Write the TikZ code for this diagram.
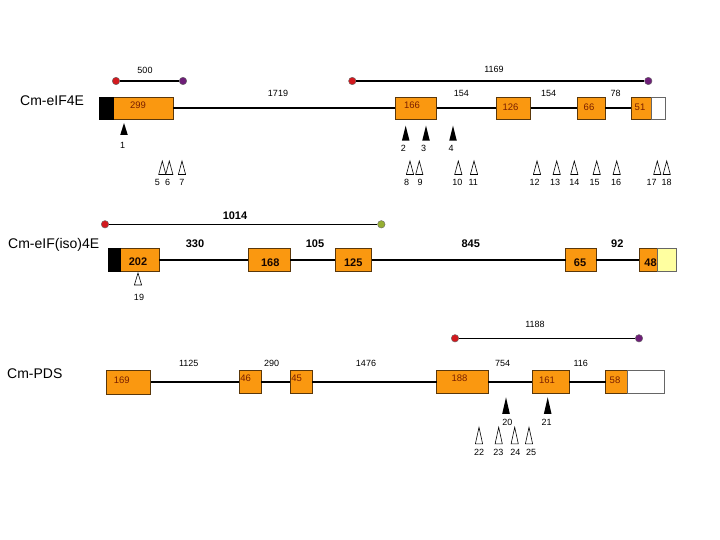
\documentclass[tikz,border=0pt]{standalone}
\usepackage{fontspec}
\setmainfont{Liberation Sans}
\definecolor{exonfill}{RGB}{250,152,16}
\definecolor{exonline}{RGB}{90,55,10}
\definecolor{boxtext}{RGB}{120,30,0}
\definecolor{paleyellow}{RGB}{255,255,160}
\definecolor{dotred}{RGB}{210,25,30}
\definecolor{dotpurple}{RGB}{110,30,120}
\definecolor{dotgreen}{RGB}{150,175,50}
\begin{document}
\begin{tikzpicture}[x=1pt,y=-1pt,
  exon/.style={draw=exonline, fill=exonfill, line width=0.7pt, inner sep=0pt, outer sep=0pt, anchor=center},
  blackbox/.style={exon, fill=black, draw=black},
  utr/.style={exon, fill=white, draw=black!60},
  intron/.style={line width=2.1pt, black},
  spanline/.style={line width=1.3pt, black},
  dotnode/.style={circle, draw=black!60, line width=0.4pt, minimum size=7.5pt, inner sep=0pt},
  num/.style={font=\fontsize{9}{9}\selectfont, anchor=base, inner sep=0pt},
  bnum/.style={font=\fontsize{11}{11}\selectfont\bfseries, anchor=base, inner sep=0pt},
  boxnum/.style={font=\fontsize{9.5}{9.5}\selectfont, anchor=base, inner sep=0pt, text=boxtext},
  bboxnum/.style={font=\fontsize{11}{11}\selectfont\bfseries, anchor=base, inner sep=0pt, text=black!80!boxtext},
  gene/.style={font=\fontsize{14}{14}\selectfont, anchor=base west, inner sep=0pt},
  ftri/.pic={\fill[black] (0,0) -- (3.8,#1) -- (-3.8,#1) -- cycle;},
  otri/.pic={\draw[fill=white, line width=0.6pt, line join=miter] (0,0) -- (3.6,#1) -- (-3.6,#1) -- cycle;}
]
\useasboundingbox (0,0) rectangle (720,540);

% ---------------- Row 1: Cm-eIF4E ----------------
\node[gene] (g1) at (20,106) {Cm-eIF4E};

\node[dotnode, fill=dotred] (s1a) at (116,81) {};
\node[dotnode, fill=dotpurple] (s1b) at (183,81) {};
\draw[spanline] (s1a) -- (s1b);
\node[num] (t500) at (145,73.3) {500};
\node[dotnode, fill=dotred] (s2a) at (352.3,81) {};
\node[dotnode, fill=dotpurple] (s2b) at (648.3,81) {};
\draw[spanline] (s2a) -- (s2b);
\node[num] (t1169) at (494,72.7) {1169};

\node[exon, minimum width=60.3pt, minimum height=21.5pt] (e11) at (143.15,108.3) {};
\node[blackbox, minimum width=14pt, minimum height=21.5pt] (k1) at (106,108.3) {};
\node[exon, minimum width=41.4pt, minimum height=21.5pt] (e12) at (416,108.3) {};
\node[exon, minimum width=34.7pt, minimum height=21.5pt] (e13) at (513.35,108.3) {};
\node[exon, minimum width=27.7pt, minimum height=21.5pt] (e14) at (591.15,108.3) {};
\node[exon, minimum width=20.4pt, minimum height=21.5pt] (e15) at (641.5,108.3) {};
\node[utr, minimum width=14pt, minimum height=21.5pt] (u1) at (658.7,108.3) {};
\draw[intron] (e11.east) -- (e12.west);
\draw[intron] (e12.east) -- (e13.west);
\draw[intron] (e13.east) -- (e14.west);
\draw[intron] (e14.east) -- (e15.west);

\node[boxnum] (x299) at (138,109) {299};
\node[boxnum] (x166) at (412,109) {166};
\node[boxnum] (x126) at (510.5,110.3) {126};
\node[boxnum] (x66) at (589,110.3) {66};
\node[boxnum] (x51) at (640,110.3) {51};

\node[num] (i1719) at (278,96.7) {1719};
\node[num] (i154a) at (461.3,96.7) {154};
\node[num] (i154b) at (548.7,96.7) {154};
\node[num] (i78) at (615.7,96.7) {78};

\pic at (124,123) {ftri=12};
\pic at (405.7,125.7) {ftri=15};
\pic at (426,125.7) {ftri=15};
\pic at (453,125.7) {ftri=15};
\node[num] (m1) at (122.7,149) {1};
\node[num] (m2) at (403.3,151.5) {2};
\node[num] (m3) at (423.7,151.5) {3};
\node[num] (m4) at (451,151.5) {4};

\foreach \xx in {162.3,169.3,182,410,419.3,458.3,474,537,556.7,574.3,596.7,616.7,657.3,666.7}
  \pic at (\xx,161) {otri=13.5};
\node[num] (m5) at (157.3,185.7) {5};
\node[num] (m6) at (167.7,185.7) {6};
\node[num] (m7) at (182,185.7) {7};
\node[num] (m8) at (406.7,185.7) {8};
\node[num] (m9) at (420,185.7) {9};
\node[num] (m10) at (457.3,185.7) {10};
\node[num] (m11) at (473.3,185.7) {11};
\node[num] (m12) at (534.7,185.7) {12};
\node[num] (m13) at (555,185.7) {13};
\node[num] (m14) at (574.3,185.7) {14};
\node[num] (m15) at (594.7,185.7) {15};
\node[num] (m16) at (616,185.7) {16};
\node[num] (m17) at (651.7,185.7) {17};
\node[num] (m18) at (666.7,185.7) {18};

% ---------------- Row 2: Cm-eIF(iso)4E ----------------
\node[gene] (g2) at (8,248) {Cm-eIF(iso)4E};

\node[dotnode, fill=dotred] (s3a) at (105,224.3) {};
\node[dotnode, fill=dotgreen] (s3b) at (381.3,224.3) {};
\draw[spanline] (s3a) -- (s3b);
\node[bnum] (t1014) at (235,219) {1014};

\node[exon, minimum width=39pt, minimum height=23pt] (e21) at (139.5,260) {};
\node[blackbox, minimum width=12pt, minimum height=23pt] (k2) at (114,260) {};
\node[exon, minimum width=42pt, minimum height=23pt] (e22) at (269,260) {};
\node[exon, minimum width=36.7pt, minimum height=23pt] (e23) at (353.35,260) {};
\node[exon, minimum width=30.6pt, minimum height=23pt] (e24) at (581,260) {};
\node[exon, minimum width=18.4pt, minimum height=23pt] (e25) at (648.5,260) {};
\node[utr, fill=paleyellow, draw=black!60, minimum width=19pt, minimum height=23pt] (u2) at (667.2,260) {};
\draw[intron] (e21.east) -- (e22.west);
\draw[intron] (e22.east) -- (e23.west);
\draw[intron] (e23.east) -- (e24.west);
\draw[intron] (e24.east) -- (e25.west);

\node[bboxnum] (x202) at (138,265.5) {202};
\node[bboxnum] (x168) at (270.3,266) {168};
\node[bboxnum] (x125) at (353.3,266) {125};
\node[bboxnum] (x65) at (580,266) {65};
\node[bboxnum] (x48) at (650.5,266) {48};

\node[bnum] (i330) at (195,247.3) {330};
\node[bnum] (i105) at (315,247.3) {105};
\node[bnum] (i845) at (470.7,247.3) {845};
\node[bnum] (i92) at (617.3,247.3) {92};

\pic at (138,273) {otri=12};
\node[num] (m19) at (139,300) {19};

% ---------------- Row 3: Cm-PDS ----------------
\node[gene] (g3) at (7,378.3) {Cm-PDS};

\node[dotnode, fill=dotred] (s4a) at (455,338.3) {};
\node[dotnode, fill=dotpurple] (s4b) at (639,338.3) {};
\draw[spanline] (s4a) -- (s4b);
\node[num] (t1188) at (535,327.7) {1188};

\node[exon, minimum width=44pt, minimum height=23.5pt] (e31) at (128.7,382.3) {};
\node[exon, minimum width=22pt, minimum height=23.5pt] (e32) at (250,381.7) {};
\node[exon, minimum width=22.3pt, minimum height=23.5pt] (e33) at (301.15,381.7) {};
\node[exon, minimum width=51.6pt, minimum height=23.5pt] (e34) at (462.5,381.7) {};
\node[exon, minimum width=37pt, minimum height=23.5pt] (e35) at (550.8,381.7) {};
\node[exon, minimum width=22pt, minimum height=23.5pt] (e36) at (616.7,381.7) {};
\node[utr, minimum width=36.6pt, minimum height=23.5pt] (u3) at (646,381.7) {};
\draw[intron] (e31.east |- 0,381.7) -- (e32.west);
\draw[intron] (e32.east) -- (e33.west);
\draw[intron] (e33.east) -- (e34.west);
\draw[intron] (e34.east) -- (e35.west);
\draw[intron] (e35.east) -- (e36.west);

\node[boxnum] (x169) at (121.8,383.3) {169};
\node[boxnum] (x46) at (245.7,381.7) {46};
\node[boxnum] (x45) at (296.7,381.7) {45};
\node[boxnum] (x188) at (459.5,381.7) {188};
\node[boxnum] (x161) at (547,383.3) {161};
\node[boxnum] (x58) at (615,383.3) {58};

\node[num] (i1125) at (188.7,366) {1125};
\node[num] (i290) at (271.7,366) {290};
\node[num] (i1476) at (366,366) {1476};
\node[num] (i754) at (502.7,366) {754};
\node[num] (i116) at (580.7,366) {116};

\pic at (506,397.3) {ftri=16.5};
\pic at (547.7,397.3) {ftri=16.5};
\node[num] (m20) at (507.3,425) {20};
\node[num] (m21) at (546.7,425) {21};

\foreach \xx in {479,498.7,514.7,529}
  \pic at (\xx,427.3) {otri=16.5};
\node[num] (m22) at (479,455.7) {22};
\node[num] (m23) at (498.3,455.7) {23};
\node[num] (m24) at (515.3,455.7) {24};
\node[num] (m25) at (531,455.7) {25};
\end{tikzpicture}
\end{document}
